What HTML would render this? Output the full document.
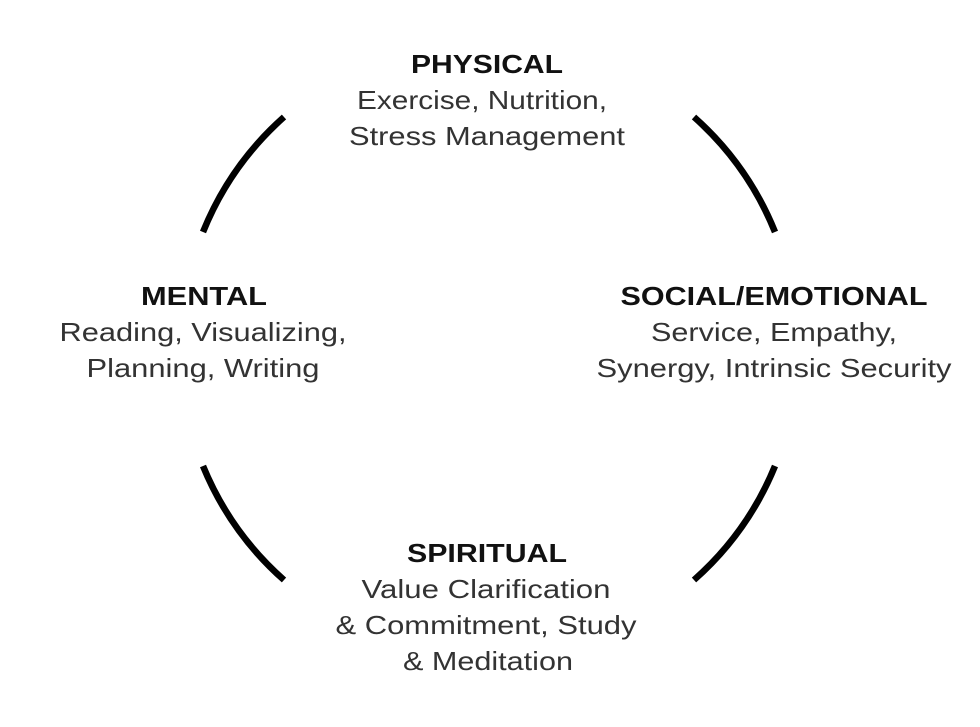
<!DOCTYPE html>
<html><head><meta charset="utf-8"><style>
html,body{margin:0;padding:0;background:#fff;}
svg{display:block}
text{font-family:"Liberation Sans",Arial,sans-serif;font-size:26px;fill:#333;text-anchor:middle}
.b{font-weight:bold;fill:#111}
</style></head><body>
<svg width="980" height="727" viewBox="0 0 980 727">
<g fill="none" stroke="#000" stroke-width="6.5" stroke-linecap="butt">
<path d="M284,117 A308,308 0 0 0 203,232"/>
<path d="M694,117 A308,308 0 0 1 775,232"/>
<path d="M203,466 A308,308 0 0 0 284,580"/>
<path d="M775,466 A308,308 0 0 1 694,580"/>
</g>
<text x="487" y="73" class="b" textLength="152" lengthAdjust="spacingAndGlyphs">PHYSICAL</text>
<text x="482" y="109" textLength="250" lengthAdjust="spacingAndGlyphs">Exercise, Nutrition,</text>
<text x="487" y="145" textLength="276" lengthAdjust="spacingAndGlyphs">Stress Management</text>
<text x="204" y="305" class="b" textLength="126" lengthAdjust="spacingAndGlyphs">MENTAL</text>
<text x="203" y="341" textLength="287" lengthAdjust="spacingAndGlyphs">Reading, Visualizing,</text>
<text x="203" y="377" textLength="233" lengthAdjust="spacingAndGlyphs">Planning, Writing</text>
<text x="774" y="305" class="b" textLength="307" lengthAdjust="spacingAndGlyphs">SOCIAL/EMOTIONAL</text>
<text x="774" y="341" textLength="246" lengthAdjust="spacingAndGlyphs">Service, Empathy,</text>
<text x="774" y="377" textLength="355" lengthAdjust="spacingAndGlyphs">Synergy, Intrinsic Security</text>
<text x="487" y="562" class="b" textLength="160" lengthAdjust="spacingAndGlyphs">SPIRITUAL</text>
<text x="486" y="598" textLength="249" lengthAdjust="spacingAndGlyphs">Value Clarification</text>
<text x="486" y="634" textLength="301" lengthAdjust="spacingAndGlyphs">&amp; Commitment, Study</text>
<text x="488" y="670" textLength="170" lengthAdjust="spacingAndGlyphs">&amp; Meditation</text>
</svg>
</body></html>
